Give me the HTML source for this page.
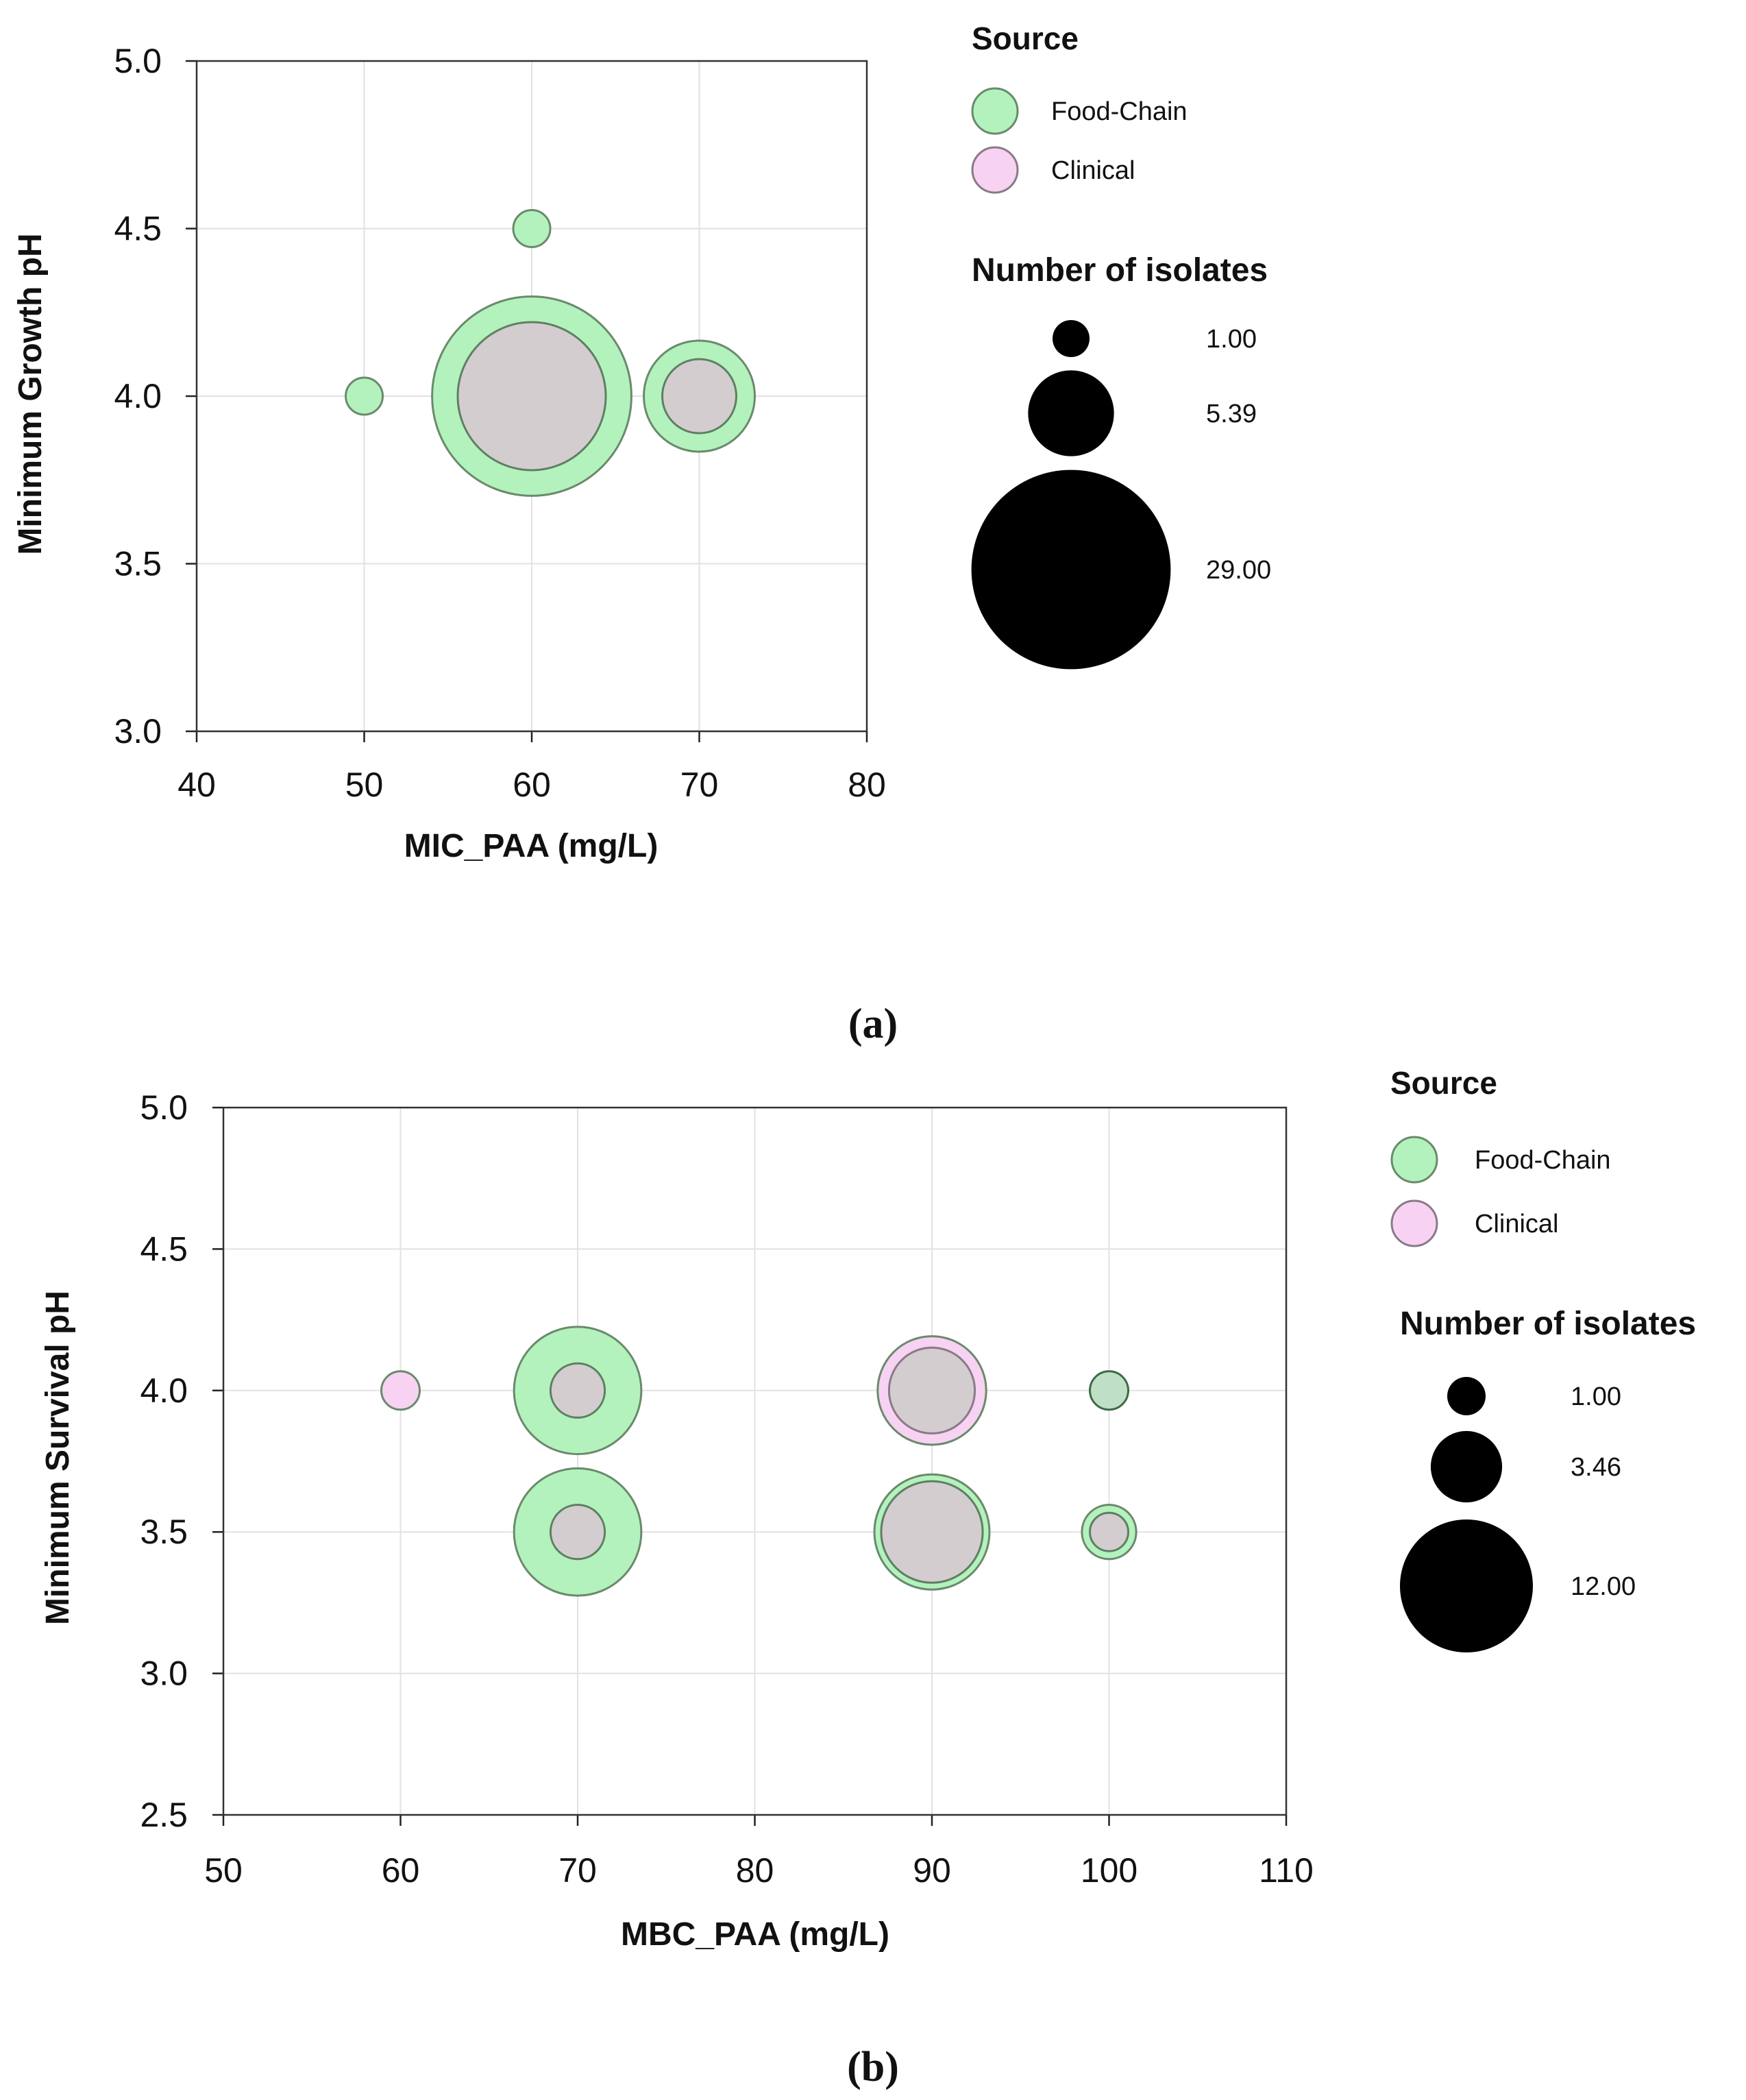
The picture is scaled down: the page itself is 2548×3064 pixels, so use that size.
<!DOCTYPE html>
<html><head><meta charset="utf-8"><style>
body{margin:0;background:#fff}
svg text{font-family:"Liberation Sans",sans-serif;fill:#111}
</style></head><body>
<svg id="s" width="2548" height="3059" xmlns="http://www.w3.org/2000/svg"></svg>
<script>
// Chart A data
const aX=[50,60,60,70];
const aY=[4.0,4.5,4.0,4.0];
const aFood=[1,1,29,9];
const aClin=[0,0,16,4];
const aXTicks=[40,50,60,70,80];
const aYTicks=[3.0,3.5,4.0,4.5,5.0];
const aLegendVals=[1.00,5.39,29.00];
// Chart B data
const bX=[60,70,70,90,90,100,100];
const bY=[4.0,4.0,3.5,4.0,3.5,4.0,3.5];
const bFood=[0,11,11,5,9,1,2];
const bClin=[1,2,2,8,7,1,1];
const bXTicks=[50,60,70,80,90,100,110];
const bYTicks=[2.5,3.0,3.5,4.0,4.5,5.0];
const bLegendVals=[1.00,3.46,12.00];

const NS="http://www.w3.org/2000/svg";
const svg=document.getElementById('s');
function el(t,a,p){const e=document.createElementNS(NS,t);for(const k in a)e.setAttribute(k,a[k]);(p||svg).appendChild(e);return e;}
function txt(x,y,s,size,opts,name){const e=el('text',Object.assign({x:x,y:y,'font-size':size},opts||{}));e.textContent=s;


return e;}

function chart(cfg){
  const g=el('g',{});
  
  
  const sx=v=>cfg.x0+(v-cfg.xmin)/(cfg.xmax-cfg.xmin)*(cfg.x1-cfg.x0);
  const sy=v=>cfg.y0+(v-cfg.ymin)/(cfg.ymax-cfg.ymin)*(cfg.y1-cfg.y0);
  cfg.xt.forEach(v=>{
    const l=el('line',{x1:sx(v),x2:sx(v),y1:cfg.y1,y2:cfg.y0,stroke:'#e2e2e2','stroke-width':2},g);
    
    
    el('line',{x1:sx(v),x2:sx(v),y1:cfg.y0,y2:cfg.y0+16,stroke:'#222','stroke-width':2.5},g);
    txt(sx(v),cfg.xlabY,String(v),50,{'text-anchor':'middle'},'x-tick-label');
  });
  cfg.yt.forEach(v=>{
    const l=el('line',{x1:cfg.x0,x2:cfg.x1,y1:sy(v),y2:sy(v),stroke:'#e2e2e2','stroke-width':2},g);
    
    
    el('line',{x1:cfg.x0-16,x2:cfg.x0,y1:sy(v),y2:sy(v),stroke:'#222','stroke-width':2.5},g);
    txt(cfg.ylabX,sy(v)+17,v.toFixed(1),50,{'text-anchor':'end'},'y-tick-label');
  });
  const f=el('rect',{x:cfg.x0,y:cfg.y1,width:cfg.x1-cfg.x0,height:cfg.y0-cfg.y1,fill:'none',stroke:'#333','stroke-width':2.5},g);
  
  
  for(let i=0;i<cfg.X.length;i++){
    const cx=sx(cfg.X[i]),cy=sy(cfg.Y[i]);
    const a=cfg.F[i],b=cfg.C[i];
    const big=Math.max(a,b),small=Math.min(a,b);
    const bigCol=a>=b?'#b3f2bd':'#f8d2f2';
    const c1=el('circle',{cx:cx,cy:cy,r:cfg.k*Math.sqrt(big),fill:(a===b?'#bfe0c6':bigCol),stroke:(a===b?'#3d6a45':'#6a8a6c'),'stroke-width':3},g);
    
    
    if(small>0&&a!==b){
      const c2=el('circle',{cx:cx,cy:cy,r:cfg.k*Math.sqrt(small),fill:'#d3cdd0',stroke:a>b?'#5f7f62':'#8a7a88','stroke-width':3},g);
      
      
    }
  }
  txt(cfg.xtX,cfg.xtY,cfg.xtitle,48,{'text-anchor':'middle','font-weight':'bold'},'x-axis-title');
  txt(0,0,cfg.ytitle,48,{'text-anchor':'middle','font-weight':'bold',transform:`translate(${cfg.ytX},${cfg.ytY}) rotate(-90)`},'y-axis-title');
  const L=cfg.leg;
  txt(L.x,L.srcY,'Source',46,{'font-weight':'bold'},'legend-title-source');
  [['Food-Chain','#b3f2bd','#6a8a6c',L.fcY],['Clinical','#f8d2f2','#8a7a88',L.clY]].forEach(d=>{
    const c=el('circle',{cx:L.cx,cy:d[3],r:33,fill:d[1],stroke:d[2],'stroke-width':3});
    
    
    txt(L.tx,d[3]+13,d[0],38,{},'legend-entry');
  });
  txt(L.nx,L.nY,'Number of isolates',48,{'font-weight':'bold'},'legend-title-size');
  cfg.LV.forEach((v,i)=>{
    const c=el('circle',{cx:L.scx,cy:L.sY[i],r:cfg.k*Math.sqrt(v),fill:'#000'});
    
    
    txt(L.slx,L.sY[i]+13,v.toFixed(2),38,{},'size-legend-label');
  });
}
chart({name:'chart-a',x0:287,x1:1265,y0:1067,y1:89,xmin:40,xmax:80,ymin:3,ymax:5,xt:aXTicks,yt:aYTicks,
 X:aX,Y:aY,F:aFood,C:aClin,k:27,xlabY:1162,ylabX:236,xtitle:'MIC_PAA (mg/L)',xtX:775,xtY:1250,ytitle:'Minimum Growth pH',ytX:60,ytY:575,
 LV:aLegendVals,leg:{x:1418,srcY:72,cx:1452,fcY:162,clY:248,tx:1534,nx:1418,nY:410,scx:1563,sY:[494,603,831],slx:1760}});
chart({name:'chart-b',x0:326,x1:1877,y0:2648,y1:1616,xmin:50,xmax:110,ymin:2.5,ymax:5,xt:bXTicks,yt:bYTicks,
 X:bX,Y:bY,F:bFood,C:bClin,k:28,xlabY:2746,ylabX:274,xtitle:'MBC_PAA (mg/L)',xtX:1102,xtY:2838,ytitle:'Minimum Survival  pH',ytX:100,ytY:2127,
 LV:bLegendVals,leg:{x:2029,srcY:1596,cx:2064,fcY:1692,clY:1785,tx:2152,nx:2043,nY:1947,scx:2140,sY:[2037,2140,2314],slx:2292}});
txt(1274,1514,'(a)',62,{'text-anchor':'middle','font-weight':'bold',style:'font-family:"Liberation Serif",serif'},'caption-a');
txt(1274,3036,'(b)',62,{'text-anchor':'middle','font-weight':'bold',style:'font-family:"Liberation Serif",serif'},'caption-b');
</script>
</body></html>
